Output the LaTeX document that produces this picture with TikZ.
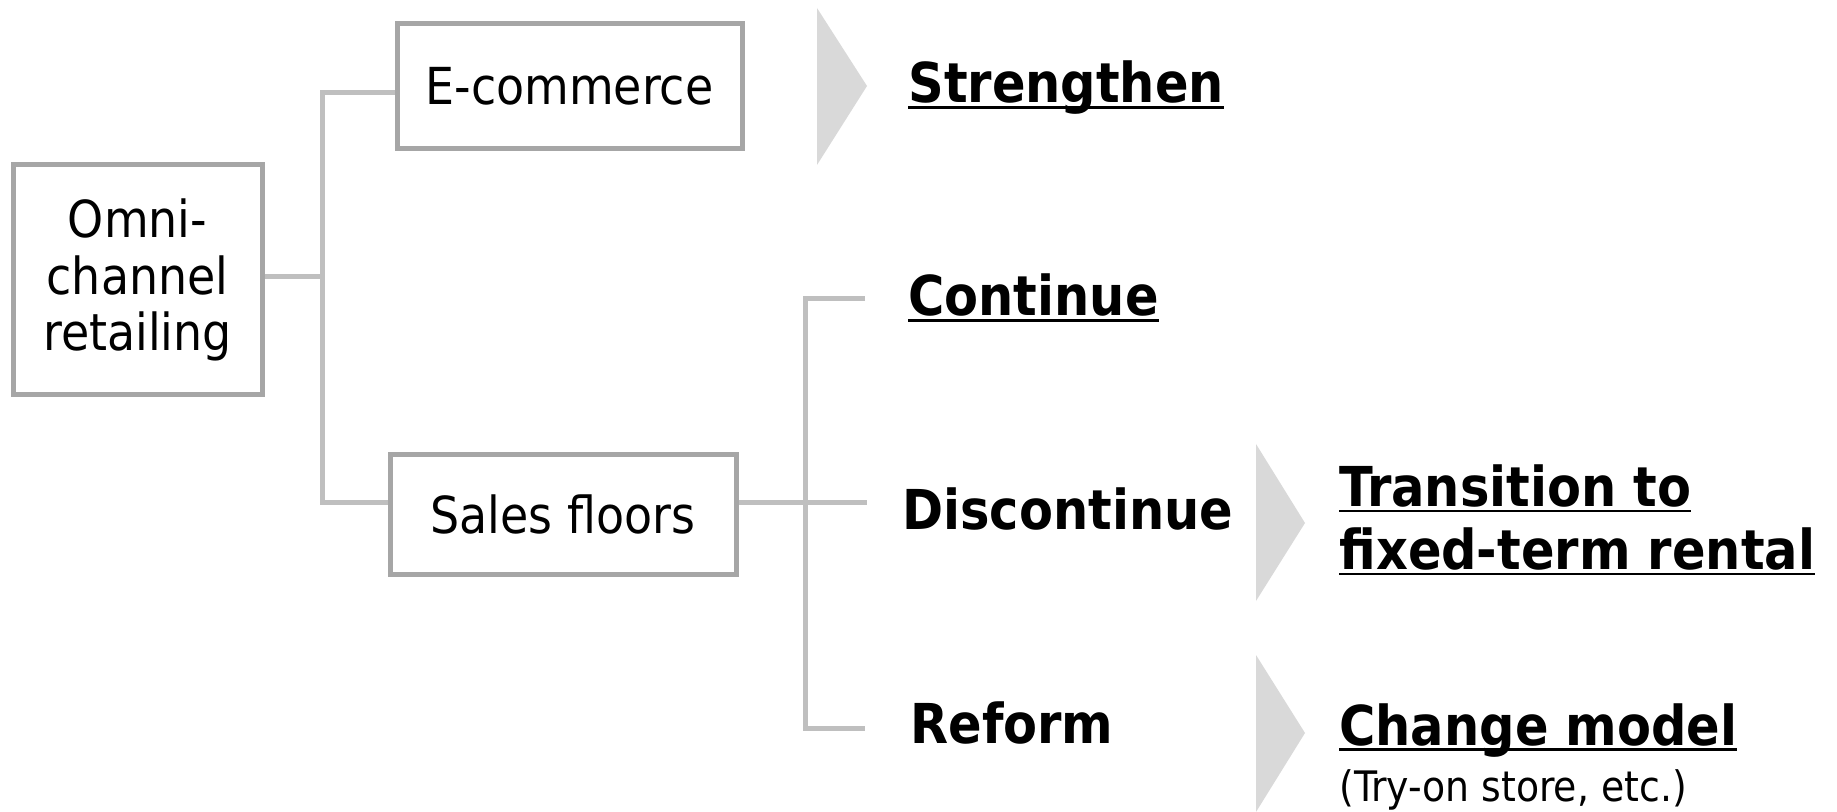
\documentclass[tikz,border=0pt]{standalone}
\usepackage{fontspec}
\setmainfont{DejaVu Sans Condensed}
\usetikzlibrary{positioning}

\definecolor{boxgray}{HTML}{A6A6A6}
\definecolor{linkgray}{HTML}{BFBFBF}
\definecolor{chevgray}{HTML}{D9D9D9}

% underline sitting just under the baseline
\newcommand{\undl}[1]{\setbox0=\hbox{#1}\rlap{\rule[-3pt]{\wd0}{1.3pt}}\box0}

\begin{document}
\begin{tikzpicture}[x=0.5pt, y=-0.5pt,
  item/.style={draw=boxgray, line width=2.5pt, fill=white, align=center, inner sep=0pt,
    font=\fontsize{25.5}{28.4}\selectfont},
  link/.style={draw=linkgray, line width=2.5pt},
  verdict/.style={anchor=base west, inner sep=0pt, font=\bfseries\fontsize{27.5}{31.5}\selectfont},
  note/.style={anchor=base west, inner sep=0pt, font=\fontsize{21}{24}\selectfont},
  chevron/.style={fill=chevgray}]

\useasboundingbox (0,0) rectangle (1837,812);

% boxes
\node[item, minimum width=124.5pt, minimum height=115pt] (omni)  at (137.5,280) {Omni-\\channel\\retailing};
\node[item, minimum width=172.5pt, minimum height=62.5pt] (ecom)  at (569.5,86)  {E-commerce};
\node[item, minimum width=173pt, minimum height=59.5pt]   (sales) at (563,514.5) {Sales floors};

% left bracket
\coordinate (split) at (322,276.5);
\draw[link] ([yshift=1.75pt]omni.east) -- (split);
\draw[link] ([yshift=-3.5pt]ecom.west) -| (split) |- ([yshift=5.75pt]sales.west);

% outcomes
\node[verdict] (strengthen)  at (908,103) {\undl{Strengthen}};
\node[verdict] (continue)    at (908,316) {\undl{Continue}};
\node[verdict] (discontinue) at (902,530) {Discontinue};
\node[verdict] (reform)      at (910,743) {Reform};
\node[verdict, anchor=west, align=left] (rental) at (1339,520) {\undl{Transition to}\\\undl{fixed-term rental}};
\node[verdict] (model) at (1339,745) {\undl{Change model}};
\node[note]    (tryon) at (1339,801) {(Try-on store, etc.)};

% right bracket
\coordinate (fork)    at (805,503);
\coordinate (to cont) at (865,299);
\coordinate (to disc) at (867,503);
\coordinate (to ref)  at (865,728);
\draw[link] ([yshift=5.75pt]sales.east) -- (to disc);
\draw[link] (to cont) -| (fork) |- (to ref);

% arrows
\fill[chevron] (817,8)    -- (867,86)   -- (817,165) -- cycle;
\fill[chevron] (1256,444) -- (1305,523) -- (1256,601) -- cycle;
\fill[chevron] (1256,655) -- (1305,733) -- (1256,812) -- cycle;
\end{tikzpicture}
\end{document}
